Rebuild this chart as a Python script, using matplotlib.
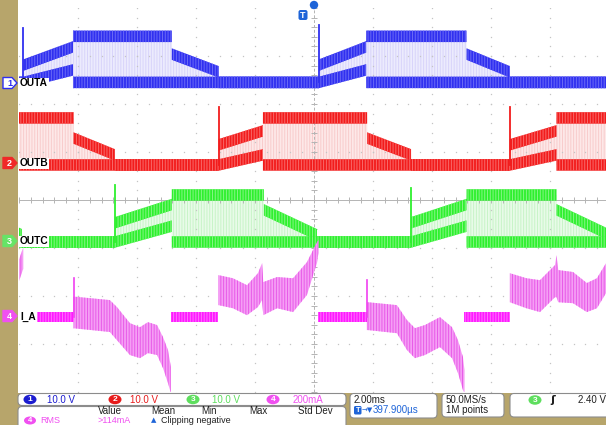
import numpy as np
import matplotlib
matplotlib.use("Agg")
import matplotlib.pyplot as plt
from matplotlib.patches import FancyBboxPatch, Polygon, Ellipse, Circle, Rectangle
from matplotlib.transforms import Affine2D

plt.rcParams['hatch.linewidth'] = 0.7
plt.rcParams['font.family'] = ['Liberation Sans', 'DejaVu Sans']

# ---------------- data (time in ms, 2.00 ms/div, trigger at centre) ----------------
# OUTA  (ch1, 10 V/div): upper / lower switching level (V) at knot times
outa_t  = [-10.0, -9.85, -9.85, -8.17, -8.17, -4.82, -4.82, -3.23, -3.23, 0.17, 0.17, 1.77, 1.77, 5.17, 5.17, 6.64, 6.64, 10.0]
outa_hi = [0, 0, 3.6, 7.4, 9.6, 9.6, 5.9, 2.2, 0, 0, 3.6, 7.4, 9.6, 9.6, 5.9, 2.2, 0, 0]
outa_lo = [0, 0, 0, 2.6, 0, 0, 0, 0, 0, 0, 0, 2.6, 0, 0, 0, 0, 0, 0]
outa_spike_t = [-9.85, 0.17]
outa_spike_v = [11.4, 12.0]

# OUTB  (ch2, 10 V/div)
outb_t  = [-10.0, -8.15, -8.15, -6.75, -6.75, -3.23, -3.23, -1.73, -1.73, 1.8, 1.8, 3.29, 3.29, 6.64, 6.64, 8.22, 8.22, 10.0]
outb_hi = [9.8, 9.8, 5.6, 2.1, 0, 0, 4.2, 7.1, 9.8, 9.8, 5.6, 2.1, 0, 0, 4.2, 7.1, 9.8, 9.8]
outb_lo = [0, 0, 0, 0, 0, 0, 0, 2.1, 0, 0, 0, 0, 0, 0, 0, 2.1, 0, 0]
outb_spike_t = [-3.23, 6.64]
outb_spike_v = [12.0, 12.0]

# OUTC  (ch3, 10 V/div)
outc_t  = [-10.0, -9.9, -9.9, -6.75, -6.75, -4.82, -4.82, -1.7, -1.7, 0.1, 0.1, 3.29, 3.29, 5.17, 5.17, 8.22, 8.22, 10.0]
outc_hi = [1.8, 1.5, 0, 0, 4.0, 7.8, 9.8, 9.8, 6.7, 1.5, 0, 0, 4.0, 7.8, 9.8, 9.8, 6.7, 1.5]
outc_lo = [0, 0, 0, 0, 0, 3.3, 0, 0, 0, 0, 0, 0, 0, 3.3, 0, 0, 0, 0]
outc_spike_t = [-6.75, 3.29]
outc_spike_v = [11.9, 11.3]

# I_A  (ch4, 200 mA/div): envelope (top / bottom, mA) of each current lobe
ia_p0_t   = [-10.0, -9.86]
ia_p0_top = [240, 290]
ia_p0_bot = [150, 200]

ia_n1_t   = [-8.15, -8.10, -6.92, -6.68, -6.24, -5.90, -5.63, -5.32, -5.12, -4.95, -4.85]
ia_n1_top = [85, 85, 71, 42, -25, -42, -21, -33, -83, -137, -208]
ia_n1_bot = [-47, -47, -62, -96, -158, -171, -150, -158, -212, -275, -317]

ia_p1_t   = [-3.24, -2.75, -2.27, -1.90, -1.76, -1.72, -1.25, -0.71, -0.24, 0.10, 0.15]
ia_p1_top = [175, 162, 133, 183, 225, 146, 167, 162, 229, 312, 321]
ia_p1_bot = [50, 37, 8, 42, 71, 8, 37, 21, 92, 225, 267]

ia_n2_t   = [1.79, 1.83, 2.81, 3.15, 3.42, 3.76, 4.27, 4.68, 4.88, 5.05, 5.10]
ia_n2_top = [62, 62, 50, -12, -46, -33, 0, -42, -96, -167, -221]
ia_n2_bot = [-54, -54, -67, -137, -171, -158, -125, -171, -233, -304, -317]

ia_p2_t   = [6.64, 7.20, 7.66, 8.17, 8.22, 8.28, 8.78, 9.25, 9.59, 9.90, 10.0]
ia_p2_top = [183, 162, 154, 217, 258, 196, 188, 142, 162, 225, 237]
ia_p2_bot = [62, 37, 21, 83, 83, 62, 58, 21, 37, 100, 112]

ia_spike_t = [-8.15, 1.79]
ia_spike_v = [162, 154]

# status bar texts
ch_scales = ["10.0 V", "10.0 V", "10.0 V", "200mA"]
meas_headers = ["Value", "Mean", "Min", "Max", "Std Dev"]
time_scale = "2.00ms"
trig_pos = "397.900µs"
sample_rate = "50.0MS/s"
record_len = "1M points"
trig_level = "2.40 V"

# ---------------- figure ----------------
W, H = 606, 425
fig = plt.figure(figsize=(W / 100, H / 100), dpi=100, facecolor='#b7a56b')
px = Affine2D().scale(1.0 / W, -1.0 / H).translate(0, 1) + fig.transFigure

fig.patches.append(Rectangle((18, 0), 600, 393, transform=px, facecolor='white',
                             edgecolor='none', zorder=-5))

ax = fig.add_axes([19 / W, 1 - 392 / H, 590 / W, 384 / H])
ax.set_xlim(-10, 10)
ax.set_ylim(-4, 4)
ax.axis('off')

# graticule
minor_x = np.arange(-10, 10.001, 0.4)
minor_y = np.arange(-4, 4.001, 0.2)
for xm in range(-8, 10, 2):
    if xm == 0:
        continue
    ax.plot(np.full_like(minor_y, xm), minor_y, ls='none', marker='s', ms=0.9,
            color='#c4c4c4', mew=0, zorder=2)
for ym in range(-3, 4):
    if ym == 0:
        continue
    ax.plot(minor_x, np.full_like(minor_x, ym), ls='none', marker='s', ms=0.9,
            color='#c4c4c4', mew=0, zorder=2)
ax.axhline(0, color='#b4b4b4', lw=0.7, zorder=2)
ax.axvline(0, color='#b4b4b4', lw=0.7, ls=(0, (3, 2)), zorder=2)
ax.plot(minor_x, np.zeros_like(minor_x), ls='none', marker='|', ms=4, mew=0.7,
        color='#b4b4b4', zorder=2)
ax.plot(np.zeros_like(minor_y), minor_y, ls='none', marker='_', ms=4, mew=0.7,
        color='#b4b4b4', zorder=2)

BAND = 0.12


def draw_digital(t, hi, lo, spk_t, spk_v, off, color, tint, tint_hatch, band_hatch):
    t = np.asarray(t, float)
    hy = off + np.asarray(hi, float) / 10.0
    ly = off + np.asarray(lo, float) / 10.0
    ax.fill_between(t, ly, hy, facecolor=tint, edgecolor=tint_hatch, hatch='||||||',
                    linewidth=0, zorder=1)
    for y in (hy, ly):
        ax.fill_between(t, y - BAND, y + BAND, facecolor=color, edgecolor=band_hatch,
                        hatch='||||||', linewidth=0, zorder=3)
    for st, sv in zip(spk_t, spk_v):
        ax.plot([st, st], [off, off + sv / 10.0], color=color, lw=1.3, zorder=3)


draw_digital(outa_t, outa_hi, outa_lo, outa_spike_t, outa_spike_v, 2.45,
             '#3030f0', '#ecebfd', '#d8d4fa', '#6a6af6')
draw_digital(outb_t, outb_hi, outb_lo, outb_spike_t, outb_spike_v, 0.73,
             '#f21c1c', '#fde8e8', '#f8cccc', '#f86a6a')
draw_digital(outc_t, outc_hi, outc_lo, outc_spike_t, outc_spike_v, -0.875,
             '#2ef02e', '#e8fbe8', '#c8f4c8', '#86f686')

# I_A
IA_OFF = -2.44
lobes = [(ia_p0_t, ia_p0_top, ia_p0_bot), (ia_n1_t, ia_n1_top, ia_n1_bot),
         (ia_p1_t, ia_p1_top, ia_p1_bot), (ia_n2_t, ia_n2_top, ia_n2_bot),
         (ia_p2_t, ia_p2_top, ia_p2_bot)]
for lt, ltop, lbot in lobes:
    ax.fill_between(lt, IA_OFF + np.asarray(lbot) / 200.0, IA_OFF + np.asarray(ltop) / 200.0,
                    facecolor='#f59ef5', edgecolor='#e85ae8', hatch='||||||',
                    linewidth=0, zorder=3)
for (lt0, _, _), (lt1, _, _) in zip(lobes[:-1], lobes[1:]):
    ax.fill_between([lt0[-1], lt1[0]], IA_OFF - 0.1, IA_OFF + 0.1, facecolor='#ff1aff',
                    edgecolor='#ff70ff', hatch='||||||', linewidth=0, zorder=3)
for st, sv in zip(ia_spike_t, ia_spike_v):
    ax.plot([st, st], [IA_OFF, IA_OFF + sv / 200.0], color='#f040f0', lw=1.2, zorder=3)

# ---------------- channel markers / labels ----------------
def ch_marker(yc, num, color, filled=True):
    pts = [(3, yc - 5.5), (12, yc - 5.5), (17, yc), (12, yc + 5.5), (3, yc + 5.5)]
    fig.patches.append(Polygon(pts, closed=True, transform=px,
                               facecolor=color if filled else 'white',
                               edgecolor=color, lw=1.0, joinstyle='round', zorder=5))
    fig.text(9.5, yc + 0.5, num, transform=px, ha='center', va='center', fontsize=6.5,
             fontweight='bold', color='white' if filled else color, zorder=6)


for yc, num, col, filled, name in [(83, '1', '#2e2ef2', False, 'OUTA'),
                                   (163, '2', '#f02828', True, 'OUTB'),
                                   (241, '3', '#66e466', True, 'OUTC'),
                                   (316, '4', '#f050f0', True, 'I_A')]:
    ch_marker(yc, num, col, filled)
    fig.text(20, yc + 0.5, name, transform=px, ha='left', va='center', fontsize=7.3,
             fontweight='bold', color='black', zorder=6,
             bbox=dict(facecolor='white', edgecolor='none', pad=0.6))

# trigger markers at top
fig.patches.append(Circle((314, 5), 4.2, transform=px, facecolor='#1e64d8',
                          edgecolor='none', zorder=5))
fig.patches.append(FancyBboxPatch((298.5, 10), 9, 10, boxstyle='round,pad=0,rounding_size=2',
                                  transform=px, facecolor='#1e64d8', edgecolor='none', zorder=5))
fig.text(303, 15.5, 'T', transform=px, ha='center', va='center', fontsize=6.5,
         fontweight='bold', color='white', zorder=6)

# ---------------- status bar ----------------
def box(x0, y0, x1, y1):
    fig.patches.append(FancyBboxPatch((x0, y0), x1 - x0, y1 - y0,
                                      boxstyle='round,pad=0,rounding_size=4', transform=px,
                                      facecolor='white', edgecolor='#8c8c8c', lw=0.8, zorder=4))


box(18, 393.5, 346, 405.5)
box(18, 406.5, 346, 440)
box(350, 393.5, 437, 418)
box(442, 393.5, 504, 417)
box(510, 393.5, 620, 417)

FS = 7
ch_cols = ['#1c1cd0', '#e81c1c', '#5ede5e', '#f050f0']
ch_circ = [30, 115, 193, 273]
ch_txt = [47, 130, 212, 293]
for i in range(4):
    fig.patches.append(Ellipse((ch_circ[i], 399.5), 13, 9.5, transform=px,
                               facecolor=ch_cols[i], edgecolor='none', zorder=5))
    fig.text(ch_circ[i], 400, str(i + 1), transform=px, ha='center', va='center',
             fontsize=6, fontweight='bold', color='white', zorder=6)
    fig.text(ch_txt[i], 400, ch_scales[i], transform=px, ha='left', va='center',
             fontsize=FS, color=ch_cols[i], zorder=6)

for xh, s in zip([98, 151, 201, 249, 298], meas_headers):
    fig.text(xh, 411.5, s, transform=px, ha='left', va='center', fontsize=FS,
             color='#202020', zorder=6)

ROW3 = 420.5
fig.patches.append(Ellipse((30, ROW3), 12, 8, transform=px, facecolor='#f050f0',
                           edgecolor='none', zorder=5))
fig.text(30, ROW3 + 0.3, '4', transform=px, ha='center', va='center', fontsize=5.5,
         fontweight='bold', color='white', zorder=6)
fig.text(40, ROW3, 'RMS', transform=px, ha='left', va='center', fontsize=6.5,
         color='#f050f0', zorder=6)
fig.text(98, ROW3, '>114mA', transform=px, ha='left', va='center', fontsize=6.5,
         color='#f050f0', zorder=6)
fig.text(151, ROW3, '▲', transform=px, ha='left', va='center', fontsize=5,
         color='#1e64d8', zorder=6, family='DejaVu Sans')
fig.text(161, ROW3, 'Clipping negative', transform=px, ha='left', va='center',
         fontsize=6.5, color='#202020', zorder=6)

fig.text(354, 400, time_scale, transform=px, ha='left', va='center', fontsize=FS,
         color='#202020', zorder=6)
fig.patches.append(FancyBboxPatch((354, 406), 7.5, 8.5, boxstyle='round,pad=0,rounding_size=1.5',
                                  transform=px, facecolor='#1e64d8', edgecolor='none', zorder=5))
fig.text(357.8, 410.5, 'T', transform=px, ha='center', va='center', fontsize=5.5,
         fontweight='bold', color='white', zorder=6)
fig.text(362, 410.5, '→▼', transform=px, ha='left', va='center', fontsize=5,
         color='#1e64d8', zorder=6, family='DejaVu Sans')
fig.text(373, 410.5, trig_pos, transform=px, ha='left', va='center', fontsize=FS,
         color='#1e64d8', zorder=6)

fig.text(446, 400, sample_rate, transform=px, ha='left', va='center', fontsize=FS,
         color='#202020', zorder=6)
fig.text(446, 410.5, record_len, transform=px, ha='left', va='center', fontsize=FS,
         color='#202020', zorder=6)

fig.patches.append(Ellipse((535, 400), 13, 9.5, transform=px, facecolor='#5ede5e',
                           edgecolor='none', zorder=5))
fig.text(535, 400.5, '3', transform=px, ha='center', va='center', fontsize=6,
         fontweight='bold', color='white', zorder=6)
fig.text(553, 400, 'ʃ', transform=px, ha='center', va='center', fontsize=8,
         color='#202020', zorder=6, family='DejaVu Sans', fontweight='bold')
fig.text(578, 400, trig_level, transform=px, ha='left', va='center', fontsize=FS,
         color='#202020', zorder=6)

fig.savefig('out.png', dpi=100, facecolor=fig.get_facecolor())
